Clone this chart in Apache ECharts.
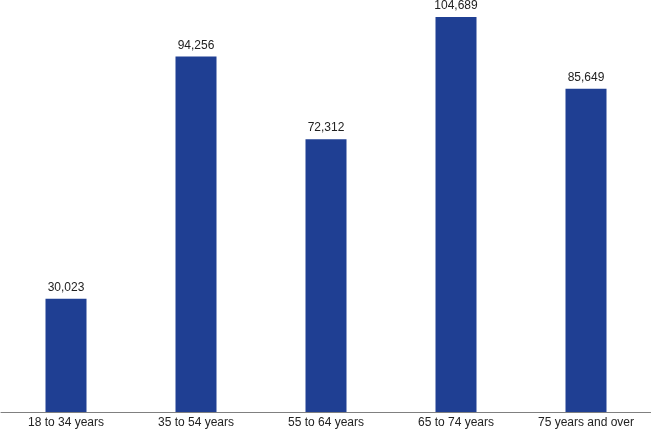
<!DOCTYPE html>
<html><head><meta charset="utf-8">
<script src="https://cdn.jsdelivr.net/npm/echarts@6/dist/echarts.min.js"></script>
<style>html,body{margin:0;padding:0;background:#fff}#c{width:651px;height:431px}</style>
</head><body><div id="c"></div>
<script>
const categories = ["18 to 34 years", "35 to 54 years", "55 to 64 years", "65 to 74 years", "75 years and over"];
const values = [30023, 94256, 72312, 104689, 85649];

const chart = echarts.init(document.getElementById('c'), null, {renderer: 'canvas'});
chart.setOption({
  animation: false,
  grid: {left: 1, right: 0, top: 0, bottom: 19, containLabel: false},
  xAxis: {
    type: 'category', data: categories,
    axisLine: {lineStyle: {color: '#808080', width: 1}},
    axisTick: {show: false},
    axisLabel: {color: '#222', fontSize: 12, fontFamily: 'Liberation Sans, Arial, sans-serif', margin: 5}
  },
  yAxis: {type: 'value', min: 0, max: 109200, show: false, splitLine: {show: false}},
  series: [{
    type: 'bar', data: values, barWidth: 41, itemStyle: {color: '#1f3f93'},
    label: {show: true, position: 'top', distance: 5, color: '#222', fontSize: 12,
      fontFamily: 'Liberation Sans, Arial, sans-serif',
      formatter: p => p.value.toLocaleString('en-US')}
  }]
});
</script></body></html>
